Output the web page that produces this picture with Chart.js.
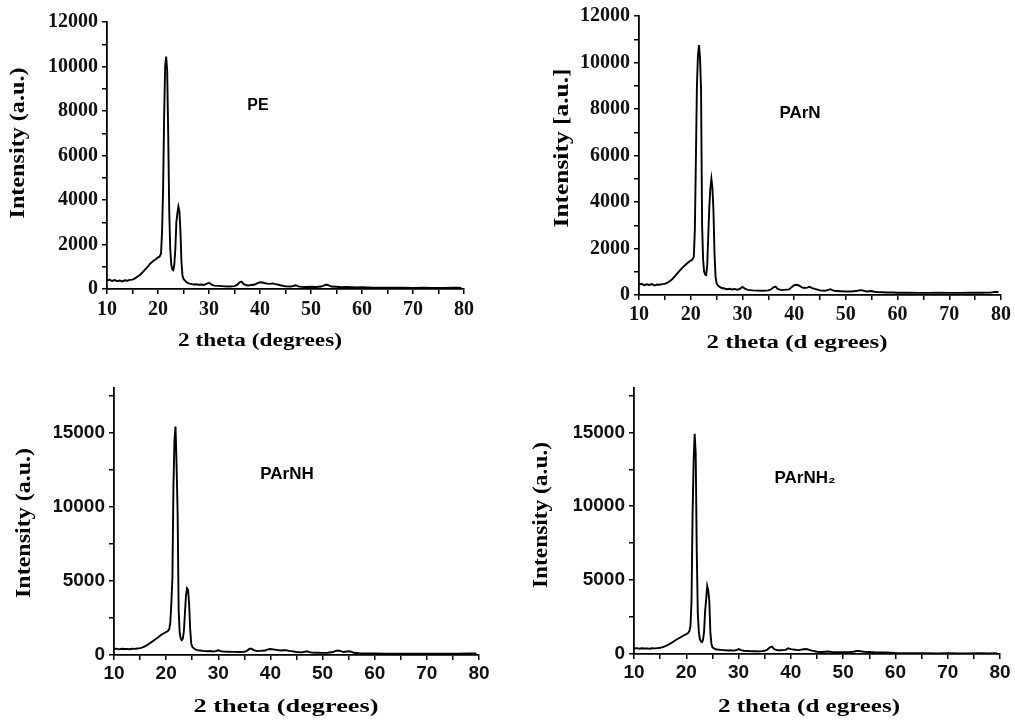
<!DOCTYPE html>
<html lang="en">
<head>
    <meta charset="UTF-8">
    <title>XRD patterns</title>
    <style>
        body {
            margin: 0;
            background-color: #fff;
            width: 1015px;
            height: 724px;
            position: relative;
            overflow: hidden;
        }
        canvas {
            position: absolute;
        }
        #c1 { left: 0; top: 0; }
        #c2 { left: 508px; top: 0; }
        #c3 { left: 0; top: 362px; }
        #c4 { left: 508px; top: 362px; }
    </style>
    <script src="https://cdn.jsdelivr.net/npm/chart.js"></script>
</head>
<body>
    <canvas id="c1" width="507" height="362"></canvas>
    <canvas id="c2" width="507" height="362"></canvas>
    <canvas id="c3" width="507" height="362"></canvas>
    <canvas id="c4" width="507" height="362"></canvas>
    <script>
        // 2 theta grid (degrees), shared by all four patterns
        const twoTheta = [
            10, 10.5, 11, 11.5, 12, 12.5, 13, 13.5, 14, 14.5,
            15, 15.5, 16, 16.5, 17, 17.5, 18, 18.5, 19, 19.5,
            20, 20.3, 20.6, 20.8, 21.0, 21.2, 21.4, 21.6, 21.8, 22.0,
            22.2, 22.4, 22.6, 22.8, 23.0, 23.2, 23.4, 23.6, 23.8, 24.0,
            24.2, 24.4, 24.6, 24.8, 25.0, 25.3, 25.6, 26, 26.5, 27,
            27.5, 28, 28.5, 29, 29.5, 30, 30.5, 31, 32, 33,
            34, 35, 35.5, 36, 36.4, 36.8, 37.5, 38, 39, 39.5,
            40, 40.5, 41, 41.5, 42, 42.5, 43, 43.5, 44, 45,
            46, 47, 47.5, 48, 49, 50, 51, 52, 52.5, 53,
            53.5, 54, 55, 55.5, 56, 57, 58, 59, 60, 62,
            64, 66, 68, 70, 72, 74, 76, 78, 79, 79.5
        ];

        const intensityPE = [
            380, 420, 360, 400, 350, 380, 340, 390, 370, 410,
            420, 480, 560, 640, 760, 880, 1000, 1150, 1250, 1330,
            1420, 1450, 1600, 2600, 4500, 7700, 10000, 10450, 9800, 7000,
            3500, 1800, 1100, 880, 850, 1100, 1800, 3000, 3400, 3700,
            3500, 2600, 1200, 600, 450, 380, 300, 250, 230, 200,
            210, 190, 200, 180, 230, 280, 200, 150, 140, 120,
            110, 130, 180, 300, 330, 220, 160, 170, 200, 260,
            300, 290, 260, 240, 230, 250, 220, 200, 170, 120,
            110, 170, 120, 100, 90, 100, 90, 110, 150, 200,
            160, 110, 100, 90, 80, 90, 80, 70, 80, 60,
            60, 55, 55, 50, 55, 50, 50, 55, 60, 50
        ];

        const intensityPArN = [
            450, 480, 420, 460, 430, 470, 410, 450, 440, 470,
            480, 530, 600, 700, 820, 950, 1080, 1200, 1300, 1400,
            1480, 1520, 1650, 2800, 5800, 9000, 10300, 10750, 10200, 8800,
            3000, 1500, 1000, 880, 860, 1300, 2600, 3800, 4600, 5000,
            4600, 3600, 1800, 800, 500, 400, 350, 300, 280, 250,
            270, 240, 260, 230, 260, 350, 270, 220, 200, 190,
            180, 200, 240, 330, 360, 260, 210, 220, 240, 330,
            420, 440, 400, 330, 300, 320, 350, 300, 260, 200,
            180, 250, 200, 170, 160, 150, 150, 170, 200, 210,
            180, 150, 170, 140, 130, 120, 110, 110, 100, 100,
            90, 90, 95, 90, 90, 100, 95, 100, 140, 120
        ];

        const intensityPArNH = [
            400, 430, 380, 420, 400, 410, 390, 420, 410, 440,
            460, 520, 600, 700, 820, 950, 1080, 1200, 1350, 1450,
            1550, 1600, 1750, 2200, 3500, 5200, 11400, 14500, 15400, 12800,
            9600, 3000, 1500, 1100, 1000, 1100, 1600, 2800, 4000, 4500,
            4400, 3500, 1800, 800, 550, 450, 380, 320, 300, 280,
            260, 250, 270, 240, 260, 320, 260, 230, 220, 210,
            200, 220, 280, 420, 430, 330, 260, 280, 300, 380,
            400, 380, 350, 330, 300, 320, 330, 280, 260, 200,
            180, 250, 190, 160, 150, 140, 150, 200, 280, 300,
            260, 200, 250, 230, 150, 120, 110, 100, 100, 90,
            90, 90, 85, 90, 80, 85, 90, 100, 110, 90
        ];

        const intensityPArNH2 = [
            380, 400, 360, 390, 370, 380, 360, 390, 380, 400,
            420, 470, 540, 620, 720, 830, 950, 1050, 1150, 1250,
            1350, 1400, 1550, 1900, 3600, 9400, 13000, 14900, 13600, 7000,
            2800, 1500, 1000, 850, 800, 950, 1500, 2900, 3700, 4600,
            4300, 3600, 1500, 700, 450, 380, 320, 300, 280, 260,
            250, 240, 250, 230, 250, 330, 260, 220, 200, 190,
            180, 220, 300, 450, 500, 330, 250, 250, 280, 380,
            330, 300, 280, 260, 300, 320, 340, 280, 230, 150,
            140, 170, 150, 130, 120, 120, 130, 150, 200, 200,
            180, 150, 140, 130, 120, 110, 100, 90, 70, 60,
            50, 50, 45, 50, 45, 45, 50, 45, 50, 45
        ];

        const sampleNames = ['PE', 'PArN', 'PArNH', 'PArNH\u2082'];
        const xTickLabels = [10, 20, 30, 40, 50, 60, 70, 80];
        const yTickLabelsTop = [0, 2000, 4000, 6000, 8000, 10000, 12000];
        const yTickLabelsBottom = [0, 5000, 10000, 15000];

        const W = 507, H = 362;
        const YW = 60, XH = 40;

        // tick marks every `step` from 0 up to `top`
        function tickValues(from, top, step) {
            const out = [];
            for (let v = from; v <= top + 1e-9; v += step) out.push({ value: v });
            return out;
        }

        // draws axis titles and sample names at fixed spots of each panel
        const panelText = {
            id: 'panelText',
            afterDraw(chart, args, opts) {
                const ctx = chart.ctx;
                (opts.items || []).forEach(it => {
                    ctx.save();
                    ctx.font = it.font;
                    ctx.fillStyle = '#000';
                    ctx.textAlign = 'center';
                    ctx.textBaseline = 'middle';
                    ctx.translate(it.x, it.y);
                    if (it.rotate) ctx.rotate(-Math.PI / 2);
                    const w = ctx.measureText(it.text).width;
                    ctx.scale(it.len ? it.len / w : 1, 1);
                    ctx.fillText(it.text, 0, 0);
                    ctx.restore();
                });
            }
        };

        function makePanel(id, values, o) {
            const pts = twoTheta.map((t, i) => ({ x: t, y: values[i] }));
            const tickFont = { family: o.tickFamily, size: o.tickSize, weight: 'bold' };
            new Chart(document.getElementById(id), {
                type: 'line',
                data: {
                    datasets: [{
                        data: pts,
                        borderColor: '#000',
                        borderWidth: 1.9,
                        pointRadius: 0,
                        tension: 0,
                        fill: false
                    }]
                },
                options: {
                    responsive: false,
                    animation: false,
                    events: [],
                    layout: {
                        padding: {
                            left: o.area.l - YW,
                            top: o.area.t,
                            right: W - o.area.r,
                            bottom: H - o.area.b - XH
                        }
                    },
                    plugins: {
                        legend: { display: false },
                        tooltip: { enabled: false },
                        panelText: { items: o.texts }
                    },
                    scales: {
                        x: {
                            type: 'linear',
                            min: 10,
                            max: 80,
                            afterFit(s) { s.height = XH; },
                            afterBuildTicks(s) { s.ticks = tickValues(10, 80, 5); },
                            grid: { drawOnChartArea: false, drawTicks: true, tickLength: 5, color: '#000', lineWidth: 1.5 },
                            border: { display: true, color: '#000', width: 1.8 },
                            ticks: {
                                autoSkip: false,
                                maxRotation: 0,
                                padding: o.xPad,
                                color: '#111',
                                font: tickFont,
                                callback: v => xTickLabels.includes(v) ? String(v) : ''
                            }
                        },
                        y: {
                            min: 0,
                            max: o.yMax,
                            afterFit(s) { s.width = YW; },
                            afterBuildTicks(s) { s.ticks = tickValues(0, o.yMax, o.yStep); },
                            grid: { drawOnChartArea: false, drawTicks: true, tickLength: 5, color: '#000', lineWidth: 1.5 },
                            border: { display: true, color: '#000', width: 1.8 },
                            ticks: {
                                autoSkip: false,
                                padding: 4,
                                color: '#111',
                                font: tickFont,
                                callback: v => o.yLabels.includes(v) ? String(v) : ''
                            }
                        }
                    }
                },
                plugins: [panelText]
            });
        }

        const serifTitle = 'bold 19px "Liberation Serif"';
        const serifY = 'bold 21px "Liberation Serif"';
        const nameFont = 'bold 17px "Liberation Sans"';

        makePanel('c1', intensityPE, {
            area: { l: 107, t: 22, r: 464, b: 289 },
            yMax: 12000, yStep: 1000, yLabels: yTickLabelsTop,
            tickFamily: '"Liberation Serif"', tickSize: 20, xPad: 4,
            texts: [
                { text: 'Intensity (a.u.)', x: 19, y: 143, font: serifY, rotate: true, len: 151 },
                { text: '2 theta (degrees)', x: 260, y: 341, font: serifTitle, len: 164 },
                { text: sampleNames[0], x: 258, y: 106, font: 'bold 16px "Liberation Sans"' }
            ]
        });

        makePanel('c2', intensityPArN, {
            area: { l: 131, t: 16, r: 493, b: 295 },
            yMax: 12000, yStep: 1000, yLabels: yTickLabelsTop,
            tickFamily: '"Liberation Serif"', tickSize: 20, xPad: 3,
            texts: [
                { text: 'Intensity [a.u.]', x: 55, y: 148, font: serifY, rotate: true, len: 159 },
                { text: '2 theta (d egrees)', x: 289, y: 343, font: serifTitle, len: 181 },
                { text: sampleNames[1], x: 292, y: 113, font: nameFont }
            ]
        });

        makePanel('c3', intensityPArNH, {
            area: { l: 114, t: 26, r: 479, b: 293 },
            yMax: 18000, yStep: 2500, yLabels: yTickLabelsBottom,
            tickFamily: '"Liberation Sans"', tickSize: 19, xPad: 2,
            texts: [
                { text: 'Intensity (a.u.)', x: 25, y: 161, font: serifY, rotate: true, len: 150 },
                { text: '2 theta (degrees)', x: 286, y: 345, font: serifTitle, len: 185 },
                { text: sampleNames[2], x: 287, y: 112, font: nameFont }
            ]
        });

        makePanel('c4', intensityPArNH2, {
            area: { l: 126, t: 26, r: 492, b: 292 },
            yMax: 18000, yStep: 2500, yLabels: yTickLabelsBottom,
            tickFamily: '"Liberation Sans"', tickSize: 19, xPad: 2,
            texts: [
                { text: 'Intensity (a.u.)', x: 34, y: 153, font: serifY, rotate: true, len: 146 },
                { text: '2 theta (d egrees)', x: 301, y: 345, font: serifTitle, len: 182 },
                { text: sampleNames[3], x: 297, y: 116, font: nameFont }
            ]
        });
    </script>
</body>
</html>
